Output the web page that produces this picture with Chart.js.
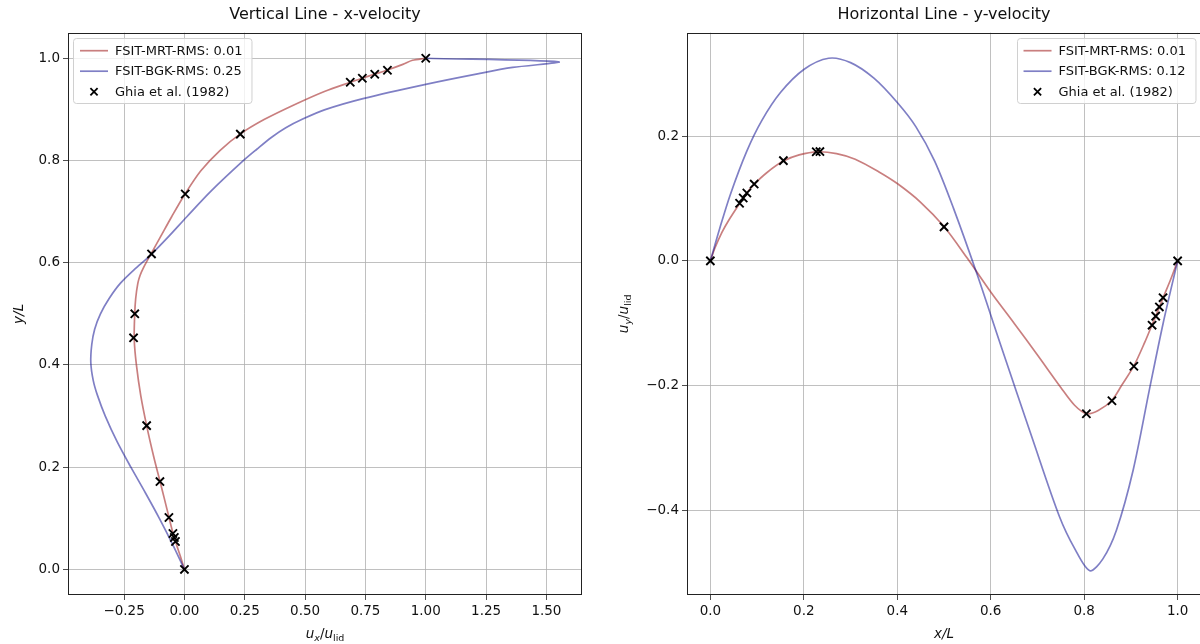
<!DOCTYPE html>
<html>
<head>
<meta charset="utf-8">
<script src="https://cdn.jsdelivr.net/npm/chart.js@4.4.1/dist/chart.umd.min.js"></script>
<style>
  html, body { margin: 0; padding: 0; background: #fff; overflow: hidden; }
  #wrap { position: relative; width: 1200px; height: 644px; overflow: hidden; background: #fff; }
  #left { position: absolute; left: 0; top: 0; }
  #right { position: absolute; left: 600px; top: 0; }
</style>
</head>
<body>
<div id="wrap">
  <canvas id="left" width="600" height="644" style="width:600px;height:644px"></canvas>
  <canvas id="right" width="610" height="644" style="width:610px;height:644px"></canvas>
</div>
<script>
// vertical centre line, x-velocity (u against y)
const ghiaVertY = [1.0, 0.9766, 0.9688, 0.9609, 0.9531, 0.8516, 0.7344, 0.6172, 0.5, 0.4531, 0.2813, 0.1719, 0.1016, 0.0703, 0.0625, 0.0547, 0.0];
const ghiaVertU = [1.0, 0.84123, 0.78871, 0.73722, 0.68717, 0.23151, 0.00332, -0.13641, -0.20581, -0.2109, -0.15662, -0.1015, -0.06434, -0.04775, -0.04192, -0.03717, 0.0];

const mrtVertY = [0, 0.02, 0.04, 0.055, 0.07, 0.1, 0.14, 0.17, 0.22, 0.28, 0.34, 0.40, 0.45, 0.50, 0.53, 0.56, 0.575, 0.59, 0.617, 0.65, 0.69, 0.735, 0.78, 0.82, 0.852, 0.88, 0.91, 0.935, 0.953, 0.961, 0.969, 0.977, 0.988, 0.996, 1.0];
const mrtVertU = [0, -0.013, -0.027, -0.037, -0.047, -0.063, -0.084, -0.100, -0.127, -0.156, -0.181, -0.199, -0.208, -0.206, -0.202, -0.193, -0.184, -0.170, -0.139, -0.100, -0.053, 0.003, 0.068, 0.148, 0.232, 0.33, 0.46, 0.58, 0.687, 0.737, 0.789, 0.841, 0.905, 0.945, 1.0];

const bgkVertY = [0, 0.05, 0.1, 0.15, 0.2, 0.25, 0.3, 0.34, 0.37, 0.405, 0.44, 0.47, 0.5, 0.53, 0.56, 0.59, 0.616, 0.65, 0.69, 0.74, 0.8, 0.822, 0.845, 0.864, 0.881, 0.899, 0.921, 0.949, 0.97, 0.982, 0.993, 1.0];
const bgkVertU = [0, -0.05, -0.104, -0.162, -0.222, -0.279, -0.328, -0.36, -0.378, -0.388, -0.384, -0.372, -0.348, -0.312, -0.265, -0.2, -0.138, -0.068, 0.01, 0.11, 0.245, 0.30, 0.36, 0.42, 0.49, 0.58, 0.74, 1.0, 1.22, 1.36, 1.55, 1.0];

// horizontal centre line, y-velocity (v against x)
const ghiaHorX = [1.0, 0.9688, 0.9609, 0.9531, 0.9453, 0.9063, 0.8594, 0.8047, 0.5, 0.2344, 0.2266, 0.1563, 0.0938, 0.0781, 0.0703, 0.0625, 0.0];
const ghiaHorV = [0.0, -0.05906, -0.07391, -0.08864, -0.10313, -0.16914, -0.22445, -0.24533, 0.05454, 0.17527, 0.17507, 0.16077, 0.12317, 0.1089, 0.10091, 0.09233, 0.0];

const mrtHorX = [0, 0.01, 0.025, 0.04, 0.0625, 0.078, 0.094, 0.12, 0.156, 0.19, 0.23, 0.27, 0.31, 0.36, 0.40, 0.45, 0.5, 0.55, 0.6, 0.65, 0.7, 0.75, 0.78, 0.805, 0.83, 0.859, 0.88, 0.906, 0.93, 0.945, 0.953, 0.961, 0.969, 0.985, 1.0];
const mrtHorV = [0, 0.021, 0.046, 0.066, 0.092, 0.109, 0.123, 0.141, 0.160, 0.170, 0.175, 0.172, 0.163, 0.143, 0.124, 0.094, 0.055, 0.004, -0.050, -0.100, -0.151, -0.203, -0.232, -0.245, -0.240, -0.224, -0.200, -0.169, -0.130, -0.103, -0.089, -0.074, -0.059, -0.030, 0];

const bgkHorX = [0, 0.02, 0.043, 0.078, 0.11, 0.15, 0.2, 0.253, 0.3, 0.35, 0.4, 0.44, 0.48, 0.52, 0.571, 0.62, 0.69, 0.747, 0.78, 0.812, 0.84, 0.869, 0.905, 0.94, 0.969, 1.0];
const bgkHorV = [0, 0.052, 0.107, 0.176, 0.225, 0.27, 0.307, 0.325, 0.318, 0.293, 0.254, 0.215, 0.16, 0.085, -0.022, -0.132, -0.287, -0.41, -0.462, -0.497, -0.478, -0.432, -0.335, -0.205, -0.1, 0];

const labelsVert = ['FSIT-MRT-RMS: 0.01', 'FSIT-BGK-RMS: 0.25', 'Ghia et al. (1982)'];
const labelsHor = ['FSIT-MRT-RMS: 0.01', 'FSIT-BGK-RMS: 0.12', 'Ghia et al. (1982)'];

const MRT_COLOR = 'rgba(165, 42, 42, 0.6)';
const BGK_COLOR = 'rgba(0, 0, 139, 0.5)';
const FONT = '"DejaVu Sans", sans-serif';

Chart.defaults.font.family = FONT;
Chart.defaults.color = '#111';

function pts(xs, ys) {
  return xs.map((x, i) => ({ x: x, y: ys[i] }));
}

function fmt(dec) {
  return (v) => (v < -1e-9 ? '\u2212' : '') + Math.abs(v).toFixed(dec);
}

// subscripted axis label, drawn as text pieces
function drawMathLabel(ctx, parts, x, y, rotated) {
  const fontOf = p => (p.it ? 'italic ' : '') + (p.sub ? '9.5px ' : '13.5px ') + FONT;
  let w = 0;
  parts.forEach(p => { ctx.font = fontOf(p); p.w = ctx.measureText(p.t).width; w += p.w; });
  ctx.save();
  ctx.translate(x, y);
  if (rotated) ctx.rotate(-Math.PI / 2);
  ctx.fillStyle = '#111';
  ctx.textBaseline = 'alphabetic';
  ctx.textAlign = 'left';
  let cx = -w / 2;
  parts.forEach(p => {
    ctx.font = fontOf(p);
    ctx.fillText(p.t, cx, p.sub ? 3 : 0);
    cx += p.w;
  });
  ctx.restore();
}

function drawCross(ctx, x, y, r) {
  ctx.beginPath();
  ctx.moveTo(x - r, y - r); ctx.lineTo(x + r, y + r);
  ctx.moveTo(x - r, y + r); ctx.lineTo(x + r, y - r);
  ctx.stroke();
}

function drawLegend(chart, ctx, side) {
  const a = chart.chartArea;
  const sets = chart.data.datasets;
  ctx.font = '13px ' + FONT;
  let tw = 0;
  sets.forEach(d => { tw = Math.max(tw, ctx.measureText(d.label).width); });
  const w = 7 + 28 + 7 + tw + 9, h = 65;
  const x0 = side === 'left' ? a.left + 5 : a.right - 6 - w;
  const y0 = a.top + 5;
  ctx.beginPath();
  ctx.roundRect(Math.round(x0) + 0.5, Math.round(y0) + 0.5, w, h, 3);
  ctx.fillStyle = 'rgba(255,255,255,0.8)';
  ctx.fill();
  ctx.strokeStyle = '#d0d0d0';
  ctx.lineWidth = 1;
  ctx.stroke();
  sets.forEach((d, i) => {
    const ry = y0 + 13 + i * 20.5;
    if (d.showLine) {
      ctx.strokeStyle = d.borderColor;
      ctx.lineWidth = d.borderWidth;
      ctx.beginPath();
      ctx.moveTo(x0 + 7, ry); ctx.lineTo(x0 + 35, ry);
      ctx.stroke();
    } else {
      ctx.strokeStyle = '#000';
      ctx.lineWidth = 1.8;
      drawCross(ctx, x0 + 21, ry, 3.6);
    }
    ctx.fillStyle = '#111';
    ctx.textBaseline = 'middle';
    ctx.textAlign = 'left';
    ctx.fillText(d.label, x0 + 42, ry + 0.5);
  });
}

const framePlugin = {
  id: 'frame',
  afterDraw(chart, args, opts) {
    const ctx = chart.ctx, a = chart.chartArea;
    ctx.save();
    ctx.strokeStyle = '#222';
    ctx.lineWidth = 1;
    const l = Math.round(a.left) + 0.5, r = Math.round(a.right) - 0.5;
    const t = Math.round(a.top) + 0.5, b = Math.round(a.bottom) - 0.5;
    ctx.strokeRect(l, t, r - l, b - t);
    drawLegend(chart, ctx, opts.legendSide);
    drawMathLabel(ctx, opts.xLabel, (a.left + a.right) / 2, 638, false);
    drawMathLabel(ctx, opts.yLabel, opts.yLabelX, (a.top + a.bottom) / 2, true);
    ctx.restore();
  }
};

function axis(min, max, step, dec, fitProp, fitSize) {
  return {
    type: 'linear',
    min: min,
    max: max,
    ticks: {
      stepSize: step,
      includeBounds: false,
      autoSkip: false,
      maxRotation: 0,
      padding: 3,
      color: '#111',
      font: { size: 13.5 },
      callback: fmt(dec)
    },
    grid: { color: '#b0b0b0', lineWidth: 0.8, tickColor: '#222', tickLength: 5, drawTicks: true },
    border: { display: false },
    afterFit(s) { s[fitProp] = fitSize; }
  };
}

function makeChart(id, o) {
  return new Chart(document.getElementById(id), {
    type: 'scatter',
    data: {
      datasets: [
        { label: o.labels[0], data: o.mrt, showLine: true, borderColor: MRT_COLOR, borderWidth: 1.7,
          pointRadius: 0, tension: 0.3, fill: false, order: 2 },
        { label: o.labels[1], data: o.bgk, showLine: true, borderColor: BGK_COLOR, borderWidth: 1.7,
          pointRadius: 0, tension: 0.3, fill: false, order: 1 },
        { label: o.labels[2], data: o.ghia, showLine: false, pointStyle: 'crossRot', pointRadius: 5.8,
          pointBorderColor: '#000', pointBackgroundColor: '#000', pointBorderWidth: 1.9, order: 0 }
      ]
    },
    options: {
      responsive: false,
      animation: false,
      devicePixelRatio: 1,
      events: [],
      layout: { padding: { left: 0, right: o.padRight, top: 0, bottom: 0 } },
      scales: {
        x: axis(o.xr[0], o.xr[1], o.xr[2], o.xr[3], 'height', 49),
        y: axis(o.yr[0], o.yr[1], o.yr[2], o.yr[3], 'width', o.yWidth)
      },
      plugins: {
        legend: { display: false },
        tooltip: { enabled: false },
        title: {
          display: true, text: o.title, fullSize: false, color: '#111',
          font: { size: 16, weight: 'normal', lineHeight: 1.2 },
          padding: { top: 5, bottom: 8.5 }
        },
        frame: { legendSide: o.legendSide, xLabel: o.xLabel, yLabel: o.yLabel, yLabelX: o.yLabelX }
      }
    },
    plugins: [framePlugin]
  });
}

makeChart('left', {
  title: 'Vertical Line - x-velocity',
  labels: labelsVert,
  mrt: pts(mrtVertU, mrtVertY),
  bgk: pts(bgkVertU, bgkVertY),
  ghia: pts(ghiaVertU, ghiaVertY),
  xr: [-0.4825, 1.6475, 0.25, 2],
  yr: [-0.05, 1.05, 0.2, 1],
  yWidth: 68,
  padRight: 18,
  legendSide: 'left',
  xLabel: [{ t: 'u', it: true }, { t: 'x', it: true, sub: true }, { t: '/' }, { t: 'u', it: true }, { t: 'lid', sub: true }],
  yLabel: [{ t: 'y/L', it: true }],
  yLabelX: 23
});

makeChart('right', {
  title: 'Horizontal Line - y-velocity',
  labels: labelsHor,
  mrt: pts(mrtHorX, mrtHorV),
  bgk: pts(bgkHorX, bgkHorV),
  ghia: pts(ghiaHorX, ghiaHorV),
  xr: [-0.05, 1.05, 0.2, 1],
  yr: [-0.536, 0.366, 0.2, 1],
  yWidth: 87,
  padRight: 9,
  legendSide: 'right',
  xLabel: [{ t: 'x/L', it: true }],
  yLabel: [{ t: 'u', it: true }, { t: 'y', it: true, sub: true }, { t: '/' }, { t: 'u', it: true }, { t: 'lid', sub: true }],
  yLabelX: 28
});
</script>
</body>
</html>
